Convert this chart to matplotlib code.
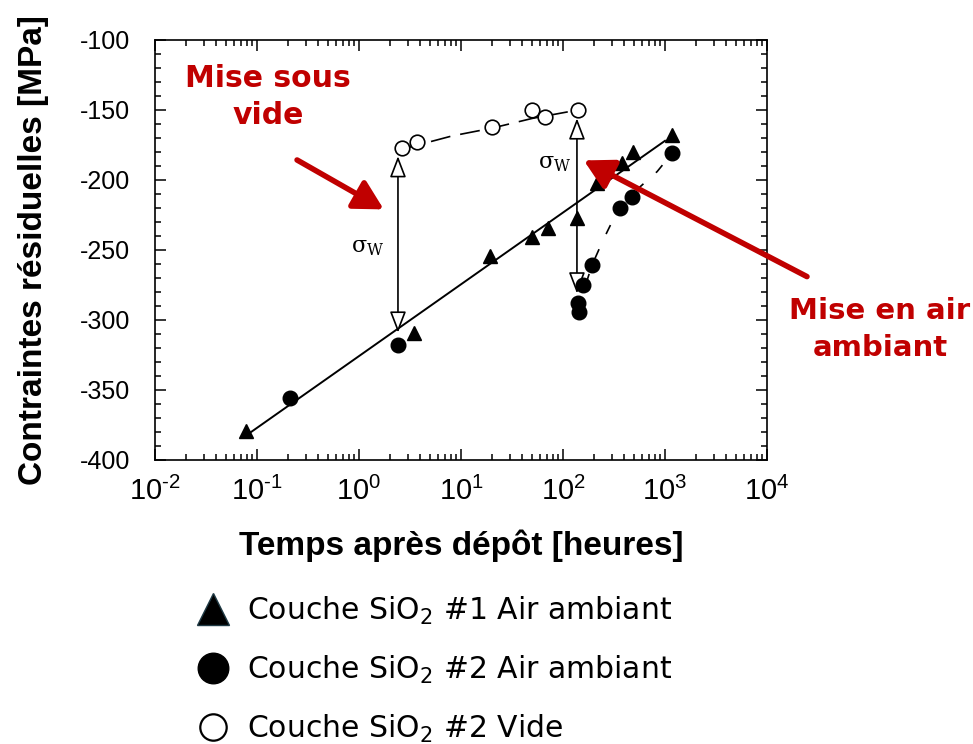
import matplotlib

matplotlib.use("Agg")
import matplotlib.pyplot as plt
from matplotlib.lines import Line2D
from matplotlib.ticker import FixedLocator, LogLocator, NullFormatter

plt.rcParams["font.family"] = ["Liberation Sans", "DejaVu Sans"]
plt.rcParams["mathtext.default"] = "regular"
plt.rcParams["axes.unicode_minus"] = False

# SiO2 #1, ambient air (triangles)
t1_x = [0.078, 3.46, 19.2, 49.7, 71, 137, 215, 378, 485, 1172]
t1_y = [-379, -309, -254, -241, -234, -227, -202, -188, -180, -168]

# SiO2 #2, ambient air (filled circles)
c2_x = [0.21, 2.41, 140, 145, 157, 192, 362, 475, 1172]
c2_y = [-356, -318, -288, -294, -275, -261, -220, -212, -181]

# SiO2 #2, vacuum (open circles)
v2_x = [2.64, 3.7, 20.1, 49.7, 66.7, 140]
v2_y = [-177, -173, -162, -150, -155, -150]

# trend lines
fit_x = [0.08, 1000]
fit_y = [-382, -172]
vac_x = [2.64, 8.2, 20, 50, 140]
vac_y = [-178, -168.5, -163, -156, -150]
rec_x = [140, 192, 247, 302, 362, 475, 837, 1172]
rec_y = [-292, -261, -243, -230, -220, -210, -194, -181]

# sigma_w double arrows (x, bottom, top)
sw_x = [2.41, 137]
sw_lo = [-309, -281]
sw_hi = [-183, -156]
sw_lab_x = [1.22, 83]
sw_lab_y = [-248, -188]

x_exp = ["\u20102", "\u20101", "0", "1", "2", "3", "4"]

RED = "#C00000"

fig = plt.figure(figsize=(9.73, 7.44), dpi=100)
ax = fig.add_axes([155 / 973, 1 - 460 / 744, 612 / 973, 420 / 744])

ax.plot(fit_x, fit_y, "-", color="black", lw=1.4, zorder=2)
ax.plot(vac_x, vac_y, color="black", lw=1.2, ls=(0, (12, 6)), zorder=2)
ax.plot(rec_x, rec_y, color="black", lw=1.2, ls=(0, (6, 10)), zorder=2)

ax.plot(t1_x, t1_y, "^", color="black", ms=10, zorder=4)
ax.plot(c2_x, c2_y, "o", color="black", ms=10.5, zorder=4)
ax.plot(v2_x, v2_y, "o", mfc="white", mec="black", mew=1.2, ms=10.5, zorder=4)

for x, lo, hi in zip(sw_x, sw_lo, sw_hi):
    ax.annotate(
        "", xy=(x, hi), xytext=(x, lo),
        arrowprops=dict(arrowstyle="<|-|>,head_length=1.3,head_width=0.5",
                        fc="white", ec="black", lw=1.2, shrinkA=0, shrinkB=0,
                        mutation_scale=10),
        zorder=3,
    )
for x, y in zip(sw_lab_x, sw_lab_y):
    ax.text(x, y, r"$\sigma_W$", fontsize=16, ha="center", va="center",
            family="DejaVu Serif")

# red annotations
arrow_red = dict(arrowstyle="-|>,head_length=1.1,head_width=0.6",
                 color=RED, lw=4, shrinkA=0, shrinkB=0, mutation_scale=16)
ax.annotate("", xy=(1.75, -221), xytext=(0.247, -185.7),
            arrowprops=arrow_red, zorder=5)
ax.annotate("", xy=(160, -186), xytext=(24660, -269),
            arrowprops=arrow_red, annotation_clip=False, zorder=5)
ax.text(0.128, -141, "Mise sous\nvide", color=RED, fontsize=21.5,
        fontweight="bold", family="DejaVu Sans", ha="center", va="center",
        linespacing=1.35)
ax.text(10 ** 5.108, -307, "Mise en air\nambiant", color=RED, fontsize=21,
        fontweight="bold", family="DejaVu Sans", ha="center", va="center",
        linespacing=1.4, clip_on=False)

ax.set_xscale("log")
ax.set_xlim(1e-2, 1e4)
ax.set_ylim(-400, -100)
ax.set_xticks([1e-2, 1e-1, 1e0, 1e1, 1e2, 1e3, 1e4])
ax.set_xticklabels([f"$10^{{{e}}}$" for e in x_exp])
ax.xaxis.set_minor_locator(LogLocator(base=10, subs=range(2, 10), numticks=20))
ax.xaxis.set_minor_formatter(NullFormatter())
ax.set_yticks(range(-400, -99, 50))
ax.yaxis.set_minor_locator(FixedLocator(range(-400, -99, 10)))

ax.tick_params(which="both", direction="in", top=True, right=True, width=1.1)
ax.tick_params(which="major", length=8)
ax.tick_params(which="minor", length=4)
ax.tick_params(axis="x", which="major", labelsize=21, pad=12)
ax.tick_params(axis="y", which="major", labelsize=18, pad=18)
for s in ax.spines.values():
    s.set_linewidth(1.2)

ax.set_xlabel("Temps après dépôt [heures]", fontsize=24, fontweight="bold",
              labelpad=17)
ax.set_ylabel("Contraintes résiduelles [MPa]", fontsize=24, fontweight="bold",
              labelpad=22)

handles = [
    Line2D([], [], ls="none", marker="^", ms=23, mfc="black", mec="#1f3a45"),
    Line2D([], [], ls="none", marker="o", ms=22, mfc="black", mec="black"),
    Line2D([], [], ls="none", marker="o", ms=19, mfc="white", mec="black",
           mew=1.6),
]
labels = [
    "Couche SiO$_2$ #1 Air ambiant",
    "Couche SiO$_2$ #2 Air ambiant",
    "Couche SiO$_2$ #2 Vide",
]
fig.legend(handles, labels, loc="upper left",
           bbox_to_anchor=(180 / 973, 1 - 580 / 744), frameon=False,
           prop=dict(family="DejaVu Sans", size=21.5), handlelength=1.2,
           handletextpad=0.55, labelspacing=0.9, borderpad=0)

fig.savefig("out.png", dpi=100)
